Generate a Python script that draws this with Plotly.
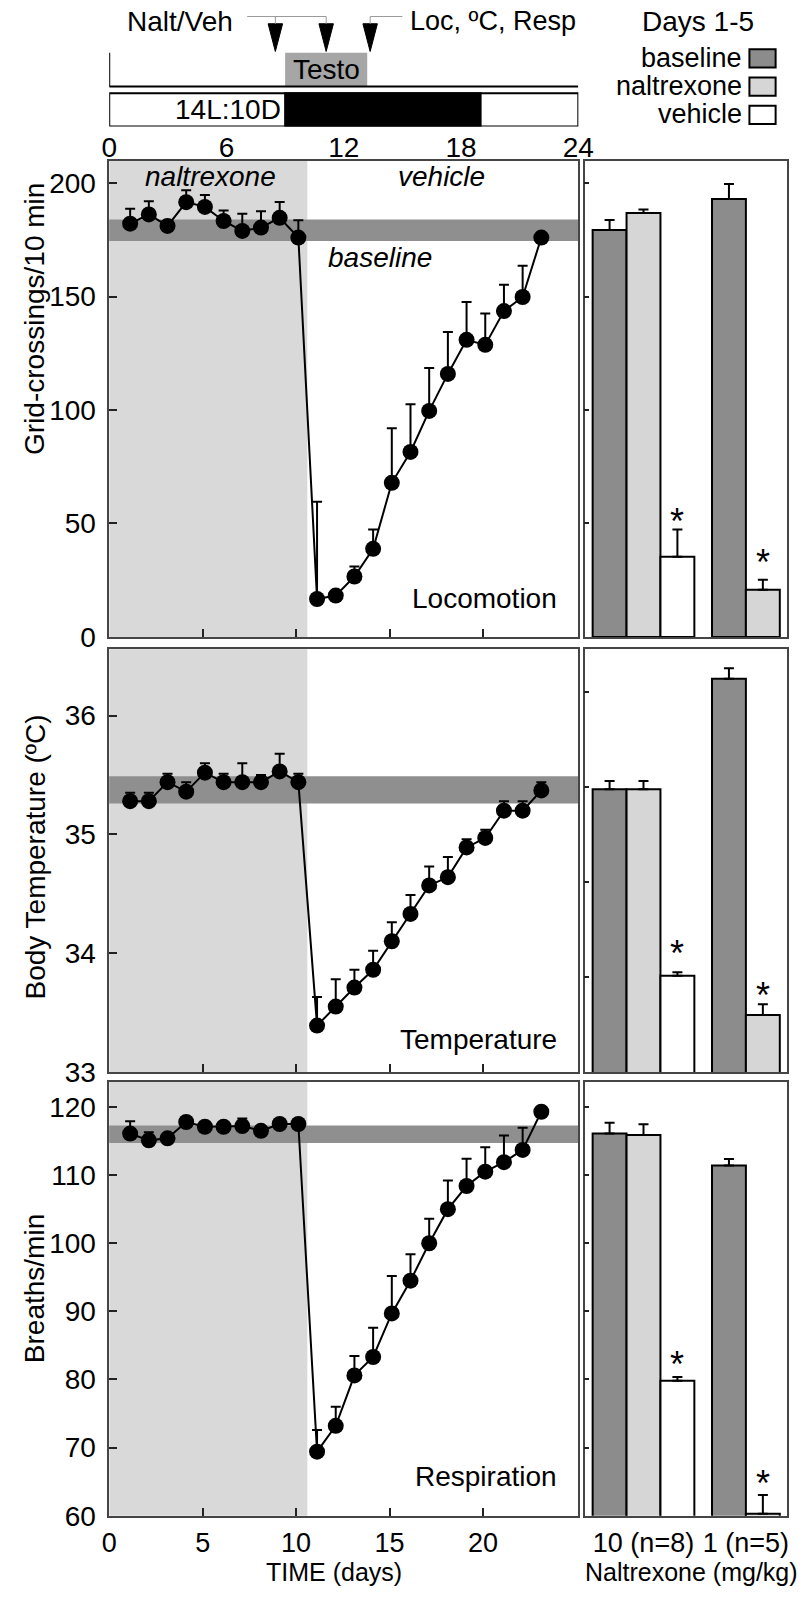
import plotly.graph_objects as go

W, H = 812, 1602
FONT = "Liberation Sans, Arial, Helvetica, sans-serif"


def fx(p):
    return p / W


def fy(p):
    return 1 - p / H


# ------------------------------------------------------------------ data
days = list(range(1, 24))

loco_mean = [182.1, 186.2, 181.1, 191.6, 189.5, 183.3, 178.9, 180.4, 184.7, 176.0,
             16.7, 18.2, 26.6, 38.8, 67.9, 81.5, 99.6, 115.9, 130.9, 128.7, 143.6, 149.8, 176.0]
loco_sem = [6.6, 5.8, 2.0, 5.2, 5.3, 4.6, 7.6, 7.2, 7.0, 7.6,
            42.9, 2.0, 4.4, 8.5, 24.0, 21.0, 18.9, 18.5, 16.7, 13.8, 11.6, 13.8, 1.0]

temp_mean = [35.28, 35.28, 35.44, 35.36, 35.52, 35.44, 35.44, 35.44, 35.53, 35.44,
             33.39, 33.55, 33.71, 33.86, 34.10, 34.33, 34.57, 34.64, 34.89, 34.97, 35.20, 35.20, 35.37]
temp_sem = [0.07, 0.07, 0.07, 0.08, 0.08, 0.07, 0.16, 0.06, 0.15, 0.07,
            0.24, 0.23, 0.15, 0.16, 0.16, 0.16, 0.16, 0.17, 0.07, 0.07, 0.08, 0.08, 0.07]

resp_mean = [116.1, 115.1, 115.4, 117.8, 117.1, 117.1, 117.2, 116.5, 117.5, 117.5,
             69.4, 73.2, 80.6, 83.3, 89.7, 94.5, 100.0, 105.0, 108.4, 110.5, 111.9, 113.7, 119.3]
resp_sem = [1.8, 1.2, 0.5, 0.5, 0.5, 0.5, 1.1, 0.5, 0.5, 0.5,
            3.2, 2.8, 2.85, 4.3, 5.5, 3.9, 3.6, 4.2, 4.0, 3.6, 3.9, 3.25, 0.5]

# baseline bands (low, high)
loco_band = [174.5, 184.0]
temp_band = [35.26, 35.49]
resp_band = [114.7, 117.3]

# naltrexone treatment period (days)
nalt_period = [0, 10.6]

# bar panels (Days 1-5): 10 mg/kg group and 1 mg/kg group
dose_labels = ["10 (n=8)", "1 (n=5)"]
loco_bar_baseline = [179.3, 193.0]
loco_bar_baseline_err = [4.4, 6.6]
loco_bar_nalt = [186.8, 20.8]
loco_bar_nalt_err = [1.6, 4.4]
loco_bar_vehicle = [35.3]
loco_bar_vehicle_err = [12.0]
loco_star = [54.1, 35.9]

temp_bar_baseline = [35.38, 36.31]
temp_bar_baseline_err = [0.07, 0.09]
temp_bar_nalt = [35.38, 33.48]
temp_bar_nalt_err = [0.07, 0.09]
temp_bar_vehicle = [33.81]
temp_bar_vehicle_err = [0.03]
temp_star = [34.06, 33.70]

resp_bar_baseline = [116.1, 111.4]
resp_bar_baseline_err = [1.6, 0.96]
resp_bar_nalt = [115.9, 60.3]
resp_bar_nalt_err = [1.55, 2.75]
resp_bar_vehicle = [79.8]
resp_bar_vehicle_err = [0.58]
resp_star = [83.2, 65.7]

# daily schedule (hours)
hour_ticks = [0, 6, 12, 18, 24]
dark_phase = [9, 19]
testo_window = [9, 13.2]
nalt_inj_hours = [8.5, 11.1]
measure_hours = [13.35]

# ------------------------------------------------------------------ style
C_BASE = "#8c8c8c"
C_NALT = "#d6d6d6"
C_VEH = "#ffffff"
C_SHADE = "#d9d9d9"
C_BAND = "#8f8f8f"
AXC = "#454545"

# bar slot positions
bar_pos_baseline = [0, 3.52]
bar_pos_nalt = [1, 4.52]
bar_pos_vehicle = [2]

x_line_dom = [fx(104.3), fx(587.7)]
x_bar_dom = [fx(594.3), fx(803.0)]

panels = [
    dict(mean=loco_mean, sem=loco_sem, band=loco_band, rng=[0, 209.7], ticks=[0, 50, 100, 150, 200],
         bar_ticks=[50, 100, 150, 200], dom=(162.7, 643.3), title="Grid-crossings/10 min", title_y=322,
         label="Locomotion", label_y=16.7,
         bars=(loco_bar_baseline, loco_bar_baseline_err, loco_bar_nalt, loco_bar_nalt_err,
               loco_bar_vehicle, loco_bar_vehicle_err), star=loco_star),
    dict(mean=temp_mean, sem=temp_sem, band=temp_band, rng=[33, 36.56], ticks=[33, 34, 35, 36],
         bar_ticks=[33.8, 34.6, 35.4, 36.2], dom=(655.7, 1082.7), title="Body Temperature (ºC)", title_y=866,
         label="Temperature", label_y=33.27,
         bars=(temp_bar_baseline, temp_bar_baseline_err, temp_bar_nalt, temp_bar_nalt_err,
               temp_bar_vehicle, temp_bar_vehicle_err), star=temp_star),
    dict(mean=resp_mean, sem=resp_sem, band=resp_band, rng=[60, 123.7], ticks=[60, 70, 80, 90, 100, 110, 120],
         bar_ticks=[70, 80, 90, 100, 110, 120], dom=(1092.7, 1531.0), title="Breaths/min", title_y=1302,
         label="Respiration", label_y=65.8,
         bars=(resp_bar_baseline, resp_bar_baseline_err, resp_bar_nalt, resp_bar_nalt_err,
               resp_bar_vehicle, resp_bar_vehicle_err), star=resp_star),
]

fig = go.Figure()
shapes = []
annotations = []
layout_axes = {}

x_days = [d + 0.12 for d in days]


def err(arr):
    return dict(type="data", array=arr, arrayminus=[0] * len(arr), symmetric=False,
                color="black", thickness=2, width=5)


def txt(text, x, y, xref, yref, size=28, **kw):
    d = dict(x=x, y=y, xref=xref, yref=yref, text=text, showarrow=False,
             xanchor=kw.pop("xanchor", "center"), yanchor=kw.pop("yanchor", "middle"),
             font=dict(size=size, color="black", family=FONT))
    d.update(kw)
    return d


for i, p in enumerate(panels):
    n_line = i + 1
    n_bar = i + 4
    xa = "x" if n_line == 1 else f"x{n_line}"
    ya = "y" if n_line == 1 else f"y{n_line}"
    xb = f"x{n_bar}"
    yb = f"y{n_bar}"
    ydom = [fy(p["dom"][1]), fy(p["dom"][0])]
    last = i == 2

    # time course
    fig.add_trace(go.Scatter(
        x=x_days, y=p["mean"], mode="lines+markers", xaxis=xa, yaxis=ya,
        line=dict(color="black", width=2), marker=dict(size=16, color="black"),
        error_y=err(p["sem"]), cliponaxis=False, hoverinfo="skip"))

    # bars
    b_base, b_base_e, b_nalt, b_nalt_e, b_veh, b_veh_e = p["bars"]
    for xs, ys, es, col in [(bar_pos_baseline, b_base, b_base_e, C_BASE),
                            (bar_pos_nalt, b_nalt, b_nalt_e, C_NALT),
                            (bar_pos_vehicle, b_veh, b_veh_e, C_VEH)]:
        fig.add_trace(go.Bar(
            x=xs, y=ys, width=[1] * len(xs), xaxis=xb, yaxis=yb,
            marker=dict(color=col, line=dict(color="black", width=2)),
            error_y=err(es), hoverinfo="skip"))

    # asterisks above the treatment bars that differ from baseline
    for sx, sy in zip([bar_pos_vehicle[0], bar_pos_nalt[1]], p["star"]):
        annotations.append(txt("*", sx, sy, xb, yb, size=36, yshift=-7))

    # shading and bands
    shapes.append(dict(type="rect", xref=xa, yref=f"{ya} domain", x0=nalt_period[0], x1=nalt_period[1],
                       y0=0, y1=1, fillcolor=C_SHADE, line=dict(width=0), layer="below"))
    shapes.append(dict(type="rect", xref=f"{xa} domain", yref=ya, x0=0, x1=1,
                       y0=p["band"][0], y1=p["band"][1], fillcolor=C_BAND, line=dict(width=0), layer="below"))

    common = dict(showline=True, mirror=True, linecolor=AXC, linewidth=1.5, showgrid=False, zeroline=False,
                  tickfont=dict(size=28, color="black", family=FONT))
    layout_axes["xaxis" if n_line == 1 else f"xaxis{n_line}"] = dict(
        common, domain=x_line_dom, range=[0, 25.1], anchor=ya, tickvals=[0, 5, 10, 15, 20],
        ticks="inside", ticklen=8, tickwidth=1.5, tickcolor="#222", showticklabels=last,
        ticklabelstandoff=2, tickfont=dict(size=27, color="black", family=FONT))
    layout_axes["yaxis" if n_line == 1 else f"yaxis{n_line}"] = dict(
        common, domain=ydom, range=p["rng"], anchor=xa, tickvals=p["ticks"],
        ticks="inside", ticklen=8, tickwidth=1.5, tickcolor="#222", ticklabelstandoff=6)
    layout_axes[f"xaxis{n_bar}"] = dict(
        common, domain=x_bar_dom, range=[-0.733, 5.24], anchor=yb,
        tickvals=[bar_pos_nalt[0], (bar_pos_baseline[1] + bar_pos_nalt[1]) / 2],
        ticktext=dose_labels, ticks="", showticklabels=last, ticklabelstandoff=2,
        tickfont=dict(size=27, color="black", family=FONT))
    layout_axes[f"yaxis{n_bar}"] = dict(
        common, domain=ydom, range=p["rng"], anchor=xb, tickvals=p["bar_ticks"],
        ticks="inside", ticklen=5, tickwidth=1.5, tickcolor="#222", showticklabels=False)

    # y title
    annotations.append(txt(p["title"], fx(28), fy(p["title_y"]), "paper", "paper", textangle=-90))
    # panel label
    annotations.append(txt(p["label"], 24.05, p["label_y"], xa, ya, xanchor="right"))

# italic labels in locomotion panel
annotations += [
    txt("<i>naltrexone</i>", 5.4, 202.9, "x", "y"),
    txt("<i>vehicle</i>", 17.8, 202.9, "x", "y"),
    txt("<i>baseline</i>", 14.48, 167.3, "x", "y"),
]

# x titles
annotations += [
    txt("TIME (days)", fx(336), fy(1588), "paper", "paper", size=25),
    txt("Naltrexone (mg/kg)", fx(704), fy(1588), "paper", "paper", size=25),
]

# ------------------------------------------------------------------ schedule schematic (x7 in hours, y7 in px)
layout_axes["xaxis7"] = dict(domain=x_line_dom, range=[0, 24], anchor="y7", tickvals=hour_ticks,
                             ticks="", showline=False, showgrid=False, zeroline=False,
                             tickfont=dict(size=28, color="black", family=FONT), ticklabelstandoff=2)
layout_axes["yaxis7"] = dict(domain=[fy(127.7), 1], range=[127.7, 0], anchor="x7", visible=False)

# testo box, baseline line and left tick
shapes.append(dict(type="rect", xref="x7", yref="y7", x0=testo_window[0], x1=testo_window[1], y0=53.3, y1=87.3,
                   fillcolor="#a6a6a6", line=dict(width=0)))
shapes.append(dict(type="line", xref="x7", yref="y7", x0=hour_ticks[0], x1=hour_ticks[-1], y0=87.3, y1=87.3,
                   line=dict(color="black", width=2)))
shapes.append(dict(type="line", xref="x7", yref="y7", x0=hour_ticks[0], x1=hour_ticks[0], y0=53.3, y1=87.3,
                   line=dict(color="black", width=2)))
# light/dark strip
shapes.append(dict(type="rect", xref="x7", yref="y7", x0=hour_ticks[0], x1=hour_ticks[-1], y0=94.3, y1=127.7,
                   fillcolor="white", line=dict(color="black", width=2)))
shapes.append(dict(type="rect", xref="x7", yref="y7", x0=dark_phase[0], x1=dark_phase[1], y0=94.3, y1=127.7,
                   fillcolor="black", line=dict(color="black", width=2)))
# arrows
for h in nalt_inj_hours + measure_hours:
    shapes.append(dict(type="path", xref="x7", yref="y7",
                       path=f"M {h - 0.37},24 L {h + 0.37},24 L {h},52 Z",
                       fillcolor="black", line=dict(color="black", width=1)))
# connectors
GC = "#9a9a9a"
shapes.append(dict(type="line", xref="x7", yref="y7", x0=7.06, x1=nalt_inj_hours[-1], y0=16.7, y1=16.7,
                   line=dict(color=GC, width=1)))
for h in nalt_inj_hours + measure_hours:
    shapes.append(dict(type="line", xref="x7", yref="y7", x0=h, x1=h, y0=16.7, y1=24,
                       line=dict(color=GC, width=1)))
shapes.append(dict(type="line", xref="x7", yref="y7", x0=measure_hours[0], x1=15.0, y0=16.7, y1=16.7,
                   line=dict(color=GC, width=1)))

annotations += [
    txt("Nalt/Veh", 3.64, 21.7, "x7", "y7"),
    txt("Loc, ºC, Resp", 15.27, 21.7, "x7", "y7", size=27, xanchor="left"),
    txt("Testo", (testo_window[0] + testo_window[1]) / 2, 70.3, "x7", "y7"),
    txt("14L:10D", dark_phase[0], 111, "x7", "y7", xanchor="right", xshift=-2),
    txt("Days 1-5", fx(711), 21.7, "paper", "y7"),
]

# legend
for name, col, yc in [("baseline", C_BASE, 59.0), ("naltrexone", C_NALT, 87.5), ("vehicle", C_VEH, 116.0)]:
    annotations.append(txt(name, fx(758), yc - 0.8, "paper", "y7", size=27, xanchor="right"))
    shapes.append(dict(type="rect", xref="paper", yref="y7", x0=fx(764), x1=fx(791), y0=yc - 9.2, y1=yc + 9.2,
                       fillcolor=col, line=dict(color="black", width=2)))

fig.update_layout(
    width=W, height=H, margin=dict(l=0, r=0, t=0, b=0),
    paper_bgcolor="white", plot_bgcolor="white",
    showlegend=False, barmode="overlay",
    font=dict(family=FONT, color="black", size=26),
    shapes=shapes, annotations=annotations,
    **layout_axes,
)

fig.write_html("out.html")
